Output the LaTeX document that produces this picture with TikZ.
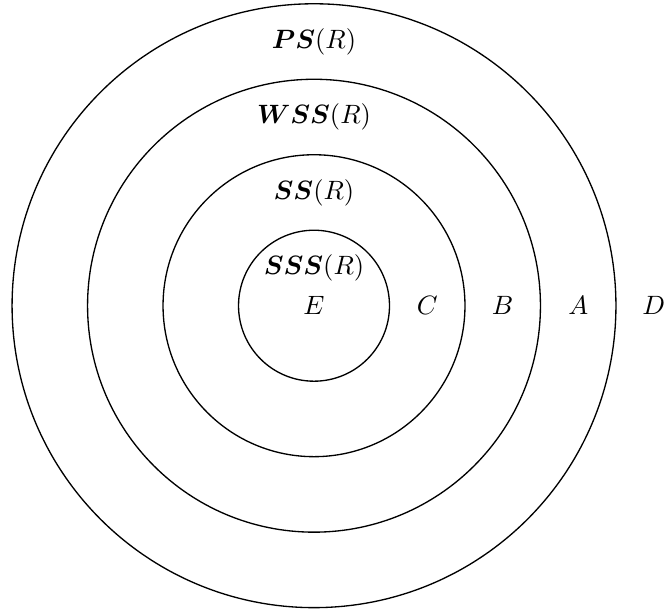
\documentclass[tikz,border=0pt]{standalone}
\usepackage{amsmath}
\usepackage{tikz}

\tikzset{
  ringlabel/.style={inner sep=1pt},
  regionlabel/.style={inner sep=1pt}
}

\begin{document}
\begin{tikzpicture}
  \path[use as bounding box] (-4.16,-4.03) rectangle (4.65,4.05);
  \foreach \r in {1,2,3,4}{
    \draw[line width=0.5pt] (0,0) circle (\r);
  }
  \node[ringlabel] (ps) at (0,3.5) {$\boldsymbol{PS}(R)$};
  \node[ringlabel] (wss) at (0,2.5) {$\boldsymbol{WSS}(R)$};
  \node[ringlabel] (ss) at (0,1.5) {$\boldsymbol{SS}(R)$};
  \node[ringlabel] (sss) at (0,0.5) {$\boldsymbol{SSS}(R)$};
  \node[regionlabel] (e) at (0,0) {$E$};
  \node[regionlabel] (c) at (1.5,0) {$C$};
  \node[regionlabel] (b) at (2.5,0) {$B$};
  \node[regionlabel] (a) at (3.5,0) {$A$};
  \node[regionlabel] (d) at (4.5,0) {$D$};
\end{tikzpicture}
\end{document}
